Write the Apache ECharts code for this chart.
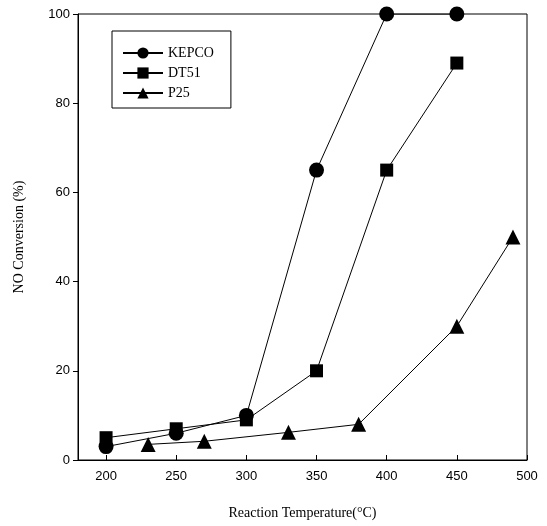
<!DOCTYPE html>
<html>
<head>
<meta charset="utf-8">
<script src="https://cdn.jsdelivr.net/npm/echarts@6/dist/echarts.min.js"></script>
<style>
  html, body { margin: 0; padding: 0; background: #fff; }
  #chart { width: 547px; height: 526px; }
</style>
</head>
<body>
<div id="chart"></div>
<script>
// data
var kepcoTemp = [200, 250, 300, 350, 400, 450];
var kepcoConv = [3, 6, 10, 65, 100, 100];
var dt51Temp = [200, 250, 300, 350, 400, 450];
var dt51Conv = [5, 7, 9, 20, 65, 89];
var p25Temp = [230, 270, 330, 380, 450, 490];
var p25Conv = [3.5, 4.2, 6.2, 8, 30, 50];
var xTicks = [200, 250, 300, 350, 400, 450, 500];

function pairs(xs, ys) {
  return xs.map(function (x, i) { return [x, ys[i]]; });
}

var myChart = echarts.init(document.getElementById('chart'));
var lineStyle = { color: '#000', width: 1 };

myChart.setOption({
  animation: false,
  grid: {
    left: 78, right: 20, top: 14, bottom: 66,
    show: true,
    borderColor: '#000',
    borderWidth: 1
  },
  legend: {
    orient: 'vertical',
    left: 112, top: 31,
    padding: [15, 17, 8, 10],
    itemWidth: 40, itemHeight: 14,
    itemGap: 6,
    borderColor: '#000', borderWidth: 1,
    textStyle: { fontFamily: 'Liberation Serif', fontSize: 14, color: '#000' },
    data: ['KEPCO', 'DT51', 'P25']
  },
  xAxis: {
    type: 'value',
    min: 180, max: 500,
    name: 'Reaction Temperature(\u00b0C)',
    nameLocation: 'middle',
    nameGap: 46,
    nameTextStyle: { fontFamily: 'Liberation Serif', fontSize: 14, color: '#000' },
    axisLine: { lineStyle: { color: '#000' } },
    axisTick: { inside: true, length: 5, customValues: xTicks, lineStyle: { color: '#000' } },
    axisLabel: { customValues: xTicks, margin: 10, fontFamily: 'Liberation Sans', fontSize: 13, color: '#000' },
    splitLine: { show: false }
  },
  yAxis: {
    type: 'value',
    min: 0, max: 100, interval: 20,
    name: 'NO Conversion (%)',
    nameLocation: 'middle',
    nameGap: 52,
    nameTextStyle: { fontFamily: 'Liberation Serif', fontSize: 14, color: '#000' },
    axisLine: { show: true, lineStyle: { color: '#000' } },
    axisTick: { show: true, inside: false, length: 5, lineStyle: { color: '#000' } },
    axisLabel: { margin: 8, fontFamily: 'Liberation Sans', fontSize: 13, color: '#000' },
    splitLine: { show: false }
  },
  series: [
    {
      name: 'KEPCO', type: 'line',
      symbol: 'circle', symbolSize: 15,
      itemStyle: { color: '#000' }, lineStyle: lineStyle,
      data: pairs(kepcoTemp, kepcoConv)
    },
    {
      name: 'DT51', type: 'line',
      symbol: 'rect', symbolSize: 13,
      itemStyle: { color: '#000' }, lineStyle: lineStyle,
      data: pairs(dt51Temp, dt51Conv)
    },
    {
      name: 'P25', type: 'line',
      symbol: 'triangle', symbolSize: 15,
      itemStyle: { color: '#000' }, lineStyle: lineStyle,
      data: pairs(p25Temp, p25Conv)
    }
  ]
});
</script>
</body>
</html>
